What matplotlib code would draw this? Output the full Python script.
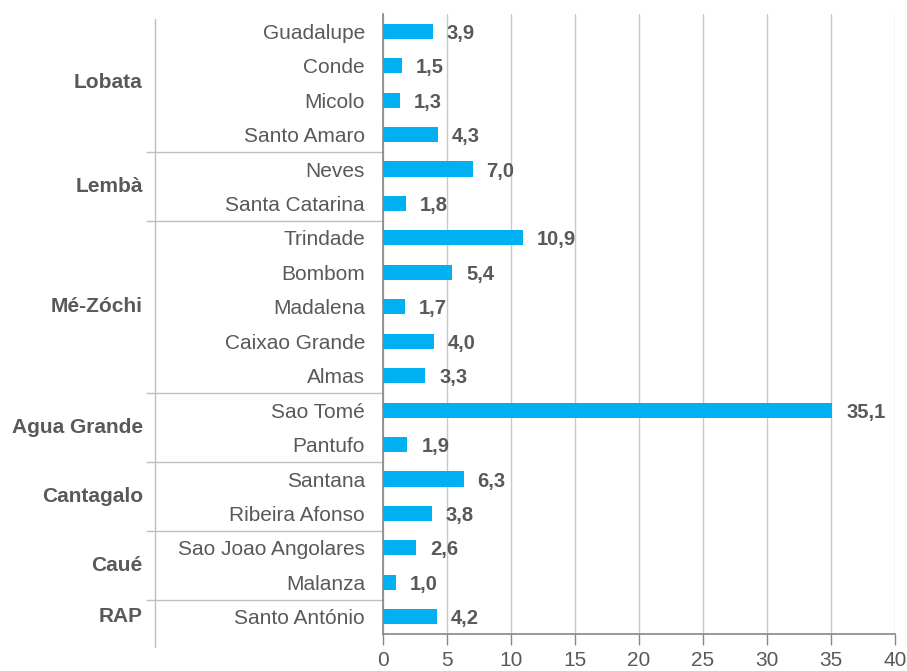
import matplotlib.pyplot as plt
from matplotlib.lines import Line2D
import matplotlib.transforms as mtransforms

plt.rcParams['font.family'] = ['Liberation Sans', 'DejaVu Sans']

# data, top to bottom
places = ['Guadalupe', 'Conde', 'Micolo', 'Santo Amaro',
          'Neves', 'Santa Catarina',
          'Trindade', 'Bombom', 'Madalena', 'Caixao Grande', 'Almas',
          'Sao Tomé', 'Pantufo',
          'Santana', 'Ribeira Afonso',
          'Sao Joao Angolares', 'Malanza',
          'Santo António']
values = [3.9, 1.5, 1.3, 4.3,
          7.0, 1.8,
          10.9, 5.4, 1.7, 4.0, 3.3,
          35.1, 1.9,
          6.3, 3.8,
          2.6, 1.0,
          4.2]
districts = ['Lobata', 'Lembà', 'Mé-Zóchi', 'Agua Grande', 'Cantagalo', 'Caué', 'RAP']
district_sizes = [4, 2, 5, 2, 2, 2, 1]
xticks = [0, 5, 10, 15, 20, 25, 30, 35, 40]

text_col = '#595959'
bar_col = '#00B0F0'

fig = plt.figure(figsize=(9.07, 6.71), dpi=100)
ax = fig.add_axes([383 / 907, 1 - 634 / 671, 512 / 907, 620 / 671])

ypos = list(range(len(places)))
ax.barh(ypos, values, height=0.44, color=bar_col, zorder=3)
ax.set_ylim(len(places) - 0.5, -0.5)
ax.set_xlim(0, 40)
ax.set_xticks(xticks)
ax.set_xticklabels([str(t) for t in xticks])
ax.set_yticks(ypos)
ax.set_yticklabels(places)

ax.tick_params(axis='y', length=0, pad=13, labelsize=15, labelcolor=text_col)
ax.tick_params(axis='x', length=8, width=1, color='#868686', pad=4,
               labelsize=15, labelcolor=text_col)
ax.grid(axis='x', color='#C8C8C8', linewidth=1, zorder=0)
for s in ['top', 'right']:
    ax.spines[s].set_visible(False)
for s in ['left', 'bottom']:
    ax.spines[s].set_color('#868686')
    ax.spines[s].set_linewidth(1.2)

# value labels
for y, v in zip(ypos, values):
    ax.annotate(f'{v:.1f}'.replace('.', ','), (v, y), xytext=(14, -2),
                textcoords='offset pixels',
                va='center', ha='left', fontsize=14.5, fontweight='bold',
                color=text_col, zorder=4)

# district grouping on the left
trans = mtransforms.blended_transform_factory(ax.transAxes, ax.transData)
start = 0
for name, n in zip(districts, district_sizes):
    mid = start + (n - 1) / 2
    ax.text(-0.469, mid, name, transform=trans, ha='right', va='center',
            fontsize=15, fontweight='bold', color=text_col)
    if start > 0:
        ax.add_line(Line2D([-0.461, 0], [start - 0.5, start - 0.5], transform=trans,
                           color='#BFBFBF', linewidth=1, clip_on=False))
    start += n
ax.add_line(Line2D([-0.445, -0.445], [-0.35, len(places) - 0.5 + 0.37], transform=trans,
                   color='#BFBFBF', linewidth=1, clip_on=False))

fig.savefig('out.png', dpi=100)
